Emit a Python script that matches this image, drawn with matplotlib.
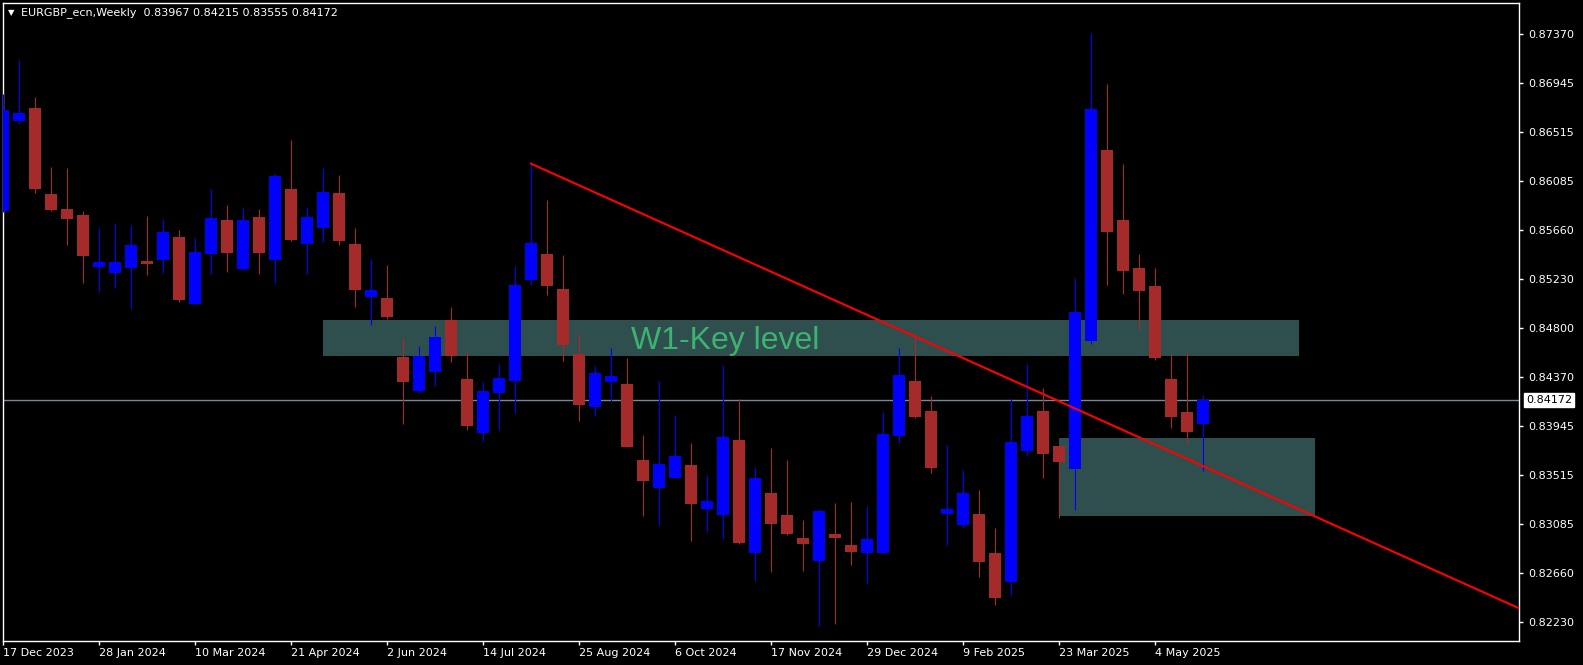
import matplotlib
matplotlib.use("Agg")
from matplotlib import pyplot as plt
from matplotlib.patches import Rectangle
import numpy as np

# weekly EURGBP candles (first week = 17 Dec 2023)
opens = [0.85823, 0.86610, 0.86723, 0.85972, 0.85841, 0.85789, 0.85334, 0.85282, 0.85328, 0.85387,
         0.85398, 0.85596, 0.85014, 0.85450, 0.85745, 0.85319, 0.85771, 0.85398, 0.86016, 0.85538,
         0.85678, 0.85981, 0.85535, 0.85075, 0.85063, 0.84548, 0.84251, 0.84419, 0.84871, 0.84356,
         0.83887, 0.84233, 0.84341, 0.85223, 0.85448, 0.85142, 0.84574, 0.84111, 0.84332, 0.84312,
         0.83648, 0.83406, 0.83493, 0.83604, 0.83220, 0.83167, 0.83823, 0.82835, 0.83360, 0.83167,
         0.82967, 0.82768, 0.83001, 0.82905, 0.82838, 0.82838, 0.83860, 0.84338, 0.84076, 0.83179,
         0.83083, 0.83176, 0.82835, 0.82585, 0.83727, 0.84076, 0.83770, 0.83572, 0.84688, 0.86356,
         0.85745, 0.85326, 0.85168, 0.84356, 0.84067, 0.83967]
highs = [0.86843, 0.87143, 0.86820, 0.86211, 0.86202, 0.85826, 0.85675, 0.85719, 0.85701, 0.85780,
         0.85754, 0.85658, 0.85588, 0.86016, 0.85876, 0.85858, 0.85841, 0.86147, 0.86444, 0.85858,
         0.86202, 0.86138, 0.85678, 0.85407, 0.85352, 0.84714, 0.84644, 0.84819, 0.84985, 0.84600,
         0.84330, 0.84487, 0.85343, 0.86237, 0.85920, 0.85439, 0.84749, 0.84469, 0.84627, 0.84539,
         0.83866, 0.84338, 0.84041, 0.83797, 0.83517, 0.84478, 0.84181, 0.83587, 0.83753, 0.83648,
         0.83124, 0.83220, 0.83272, 0.83284, 0.83246, 0.84067, 0.84627, 0.84723, 0.84207, 0.83779,
         0.83561, 0.83386, 0.83054, 0.84178, 0.84487, 0.84277, 0.83770, 0.85241, 0.87379, 0.86933,
         0.86234, 0.85448, 0.85326, 0.84574, 0.84594, 0.84215]
lows = [0.85815, 0.86586, 0.85983, 0.85823, 0.85526, 0.85197, 0.85118, 0.85153, 0.84967, 0.85264,
        0.85282, 0.85031, 0.85007, 0.85276, 0.85293, 0.85312, 0.85276, 0.85197, 0.85564, 0.85276,
        0.85555, 0.85529, 0.84987, 0.84830, 0.84880, 0.83965, 0.84233, 0.84297, 0.84507, 0.83913,
        0.83817, 0.83913, 0.84061, 0.85177, 0.85092, 0.84513, 0.83989, 0.84032, 0.84164, 0.83762,
        0.83159, 0.83080, 0.83491, 0.82943, 0.83022, 0.82960, 0.82914, 0.82593, 0.82672, 0.82995,
        0.82681, 0.82200, 0.82218, 0.82733, 0.82567, 0.82829, 0.83796, 0.84018, 0.83537, 0.82905,
        0.83057, 0.82628, 0.82384, 0.82469, 0.83679, 0.83493, 0.83144, 0.83214, 0.84664, 0.85177,
        0.85101, 0.84784, 0.84522, 0.83930, 0.83790, 0.83555]
closes = [0.86706, 0.86677, 0.86016, 0.85832, 0.85754, 0.85430, 0.85378, 0.85378, 0.85526, 0.85360,
          0.85640, 0.85049, 0.85465, 0.85762, 0.85459, 0.85745, 0.85459, 0.86129, 0.85573, 0.85771,
          0.85990, 0.85564, 0.85136, 0.85133, 0.84900, 0.84332, 0.84557, 0.84723, 0.84559, 0.83948,
          0.84251, 0.84364, 0.85177, 0.85544, 0.85171, 0.84653, 0.84129, 0.84408, 0.84382, 0.83762,
          0.83465, 0.83613, 0.83683, 0.83266, 0.83290, 0.83849, 0.82923, 0.83491, 0.83091, 0.83004,
          0.82917, 0.83202, 0.82969, 0.82847, 0.82958, 0.83875, 0.84391, 0.84026, 0.83581, 0.83220,
          0.83360, 0.82759, 0.82445, 0.83805, 0.84032, 0.83703, 0.83633, 0.84941, 0.86715, 0.85643,
          0.85302, 0.85127, 0.84542, 0.84024, 0.83893, 0.84172]

tick_pos = [0, 6, 12, 18, 24, 30, 36, 42, 48, 54, 60, 66, 72]
tick_labels = ["17 Dec 2023", "28 Jan 2024", "10 Mar 2024", "21 Apr 2024", "2 Jun 2024",
               "14 Jul 2024", "25 Aug 2024", "6 Oct 2024", "17 Nov 2024", "29 Dec 2024",
               "9 Feb 2025", "23 Mar 2025", "4 May 2025"]
price_ticks = [0.87370, 0.86945, 0.86515, 0.86085, 0.85660, 0.85230, 0.84800,
               0.84370, 0.83945, 0.83515, 0.83085, 0.82660, 0.82230]

bid = 0.84172
# key level zones: (start bar, end bar, low, high)
zone_w1 = (20, 81, 0.84559, 0.84871)
zone_low = (66, 82, 0.83159, 0.83840)
# trend line anchors (bar, price)
trend = [(33, 0.86237), (82, 0.83155)]

BULL = "#0000ff"
BEAR = "#a52a2a"

fig = plt.figure(figsize=(15.83, 6.65), dpi=100, facecolor="black")
W, H = 1583, 665
ax = fig.add_axes([2.5 / W, (H - 641) / H, (1519 - 2.5) / W, (641 - 2.5) / H])
ax.set_facecolor("black")

x = np.arange(len(opens))
o = np.array(opens)
c = np.array(closes)
colors = [BULL if cc >= oo else BEAR for oo, cc in zip(o, c)]

# zones behind the candles
for x0, x1, lo, hi in (zone_w1, zone_low):
    ax.add_patch(Rectangle((x0, lo), x1 - x0, hi - lo, facecolor="#2f4f4f",
                           edgecolor="none", zorder=1))
ax.text(39.25, 0.84618, "W1-Key level", color="#3cb371", fontsize=23,
        family="Liberation Sans", va="baseline", ha="left", zorder=2)

ax.axhline(bid, color="#778899", lw=1, zorder=1.5)

# candles
ax.vlines(x, lows, highs, colors=colors, lw=0.8, zorder=3)
body = np.maximum(np.abs(c - o), 0.0001)
ax.bar(x, body, bottom=np.minimum(o, c), width=0.69, color=colors, lw=0, zorder=3)

# trend ray
(xa, ya), (xb, yb) = trend
slope = (yb - ya) / (xb - xa)
xend = 94.75
ax.plot([xa, xend], [ya, ya + slope * (xend - xa)], color="red", lw=1.5, zorder=4)

ax.set_xlim(-0.03, 94.75)
ax.set_ylim(0.82067, 0.87645)

for s in ax.spines.values():
    s.set_color("white")
    s.set_linewidth(1)

ax.yaxis.tick_right()
ax.set_yticks(price_ticks)
ax.set_yticklabels([f"{p:.5f}" for p in price_ticks])
ax.set_xticks(tick_pos)
ax.set_xticklabels(tick_labels, ha="left")
ax.tick_params(axis="both", colors="white", labelcolor="white", labelsize=8,
               length=3, width=1, direction="out")
ax.tick_params(axis="y", pad=4)
ax.tick_params(axis="x", pad=2)

# bid label on the price scale
ax.text(1.0045, bid, f"{bid:.5f}", transform=ax.get_yaxis_transform(), color="black",
        fontsize=8, ha="left", va="center",
        bbox=dict(boxstyle="square,pad=0.2", facecolor="white", edgecolor="white"))

# chart header
fig.text(11 / W, 1 - 12.5 / H, "\u25bc", color="white", fontsize=6, ha="center", va="center")
fig.text(21 / W, 1 - 12.5 / H, "EURGBP_ecn,Weekly  0.83967 0.84215 0.83555 0.84172",
         color="white", fontsize=8, ha="left", va="center")

fig.savefig("out.png", dpi=100, facecolor="black")
